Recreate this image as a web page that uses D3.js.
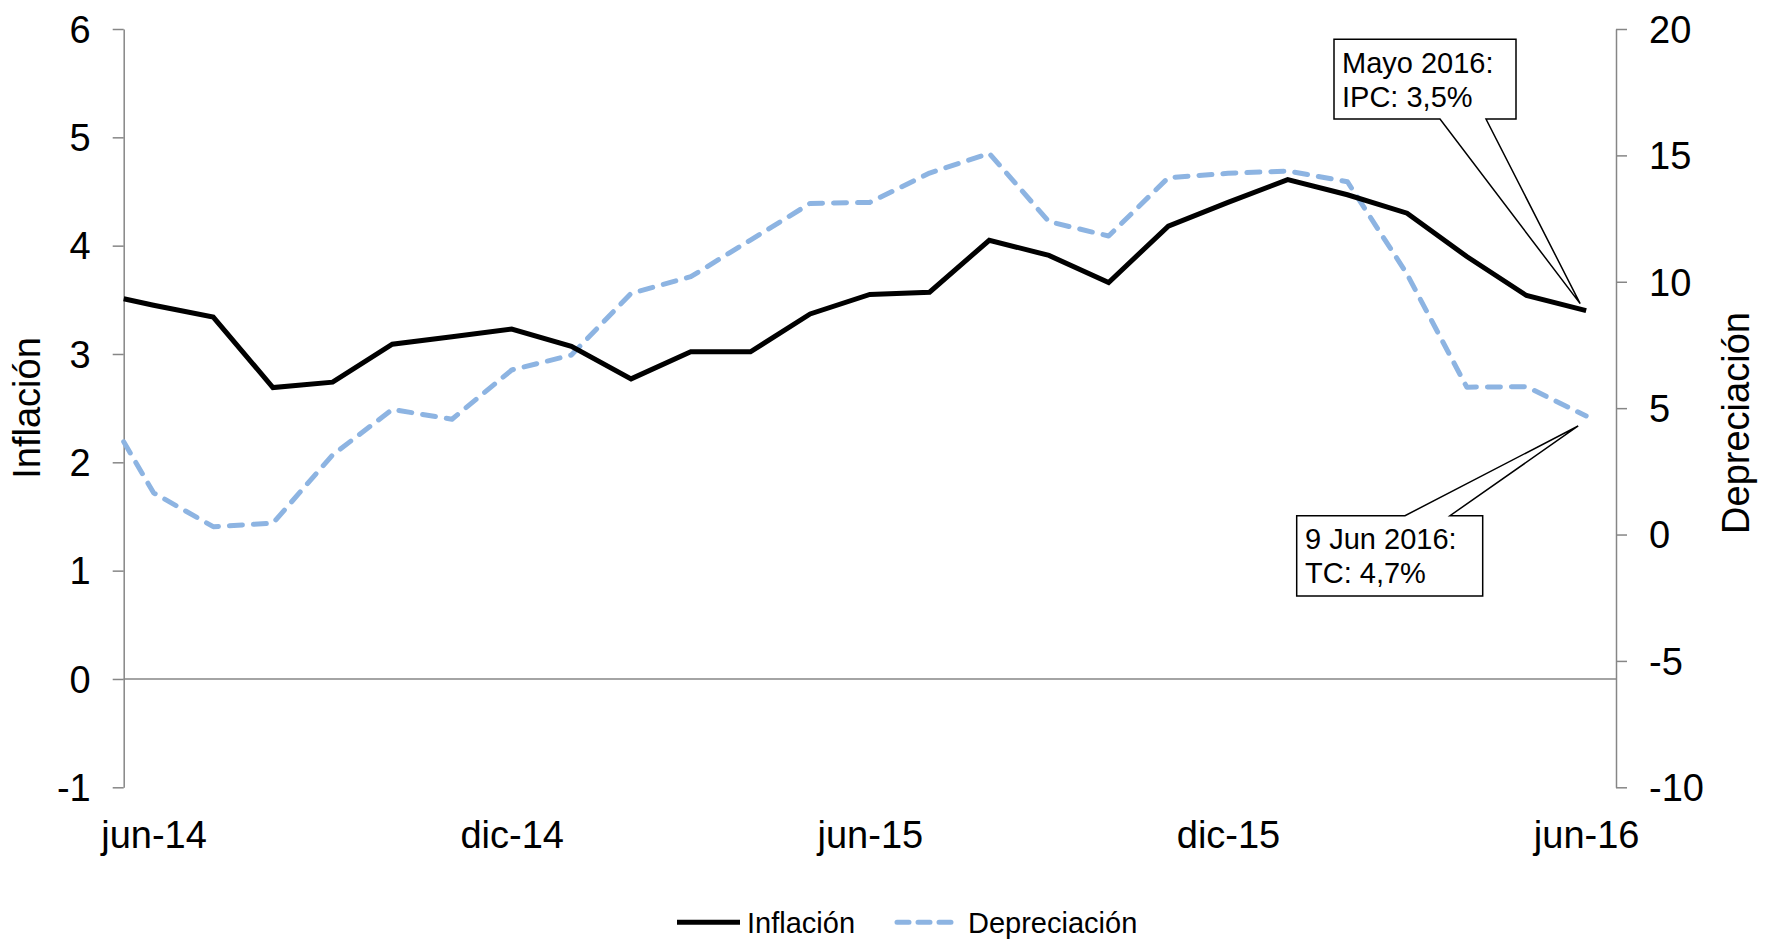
<!DOCTYPE html>
<html>
<head>
<meta charset="utf-8">
<script src="https://cdn.jsdelivr.net/npm/d3@7"></script>
<style>
  body { margin: 0; background: #fff; }
  text { font-family: "Liberation Sans", Arial, sans-serif; fill: #000; }
</style>
</head>
<body>
<script>
// month offset from jun-14 (axis starts half a month before jun-14)
var meses = [-0.5, 0, 1, 2, 3, 4, 5, 6, 7, 8, 9, 10, 11, 12, 13, 14, 15, 16, 17, 18, 19, 20, 21, 22, 23, 24];
var inflacion = [3.51, 3.45, 3.34, 2.69, 2.74, 3.09, 3.16, 3.23, 3.07, 2.77, 3.02, 3.02, 3.37, 3.55, 3.57,
                 4.05, 3.91, 3.66, 4.18, 4.40, 4.61, 4.47, 4.30, 3.90, 3.54, 3.40];
var depreciacion = [3.67, 1.65, 0.31, 0.45, 3.15, 4.95, 4.56, 6.51, 7.10, 9.54, 10.20, 11.65, 13.10, 13.14, 14.30,
                    15.08, 12.38, 11.81, 14.12, 14.29, 14.38, 13.96, 10.30, 5.83, 5.85, 4.69];
var tickMeses = [0, 6, 12, 18, 24];
var tickLabels = ["jun-14", "dic-14", "jun-15", "dic-15", "jun-16"];
var ticksIzq = [-1, 0, 1, 2, 3, 4, 5, 6];
var ticksDer = [-10, -5, 0, 5, 10, 15, 20];

var width = 1768, height = 945;
var plotLeft = 123.7, plotRight = 1616, plotTop = 29, plotBottom = 787.3;
var axisGray = "#868686";
var blue = "#8db4e2";

var svg = d3.select("body")
            .append("svg")
            .attr("width", width)
            .attr("height", height);

var x = d3.scaleLinear().domain([-0.5, 24.5]).range([plotLeft, plotRight]);
var yL = d3.scaleLinear().domain([-1, 6]).range([plotBottom, plotTop]);
var yR = d3.scaleLinear().domain([-10, 20]).range([plotBottom, plotTop]);

// plain hyphen for negatives, like the original
var fmt = function(d) { return String(d); };

// zero line
svg.append("line").attr("x1", plotLeft).attr("x2", plotRight)
   .attr("y1", yL(0)).attr("y2", yL(0))
   .attr("stroke", axisGray).attr("stroke-width", 1.5);

// left axis
var gL = svg.append("g").attr("transform", "translate(" + plotLeft + ",0)")
  .call(d3.axisLeft(yL).tickValues(ticksIzq).tickFormat(fmt).tickSize(11).tickPadding(22).tickSizeOuter(0));
// right axis
var gR = svg.append("g").attr("transform", "translate(" + plotRight + ",0)")
  .call(d3.axisRight(yR).tickValues(ticksDer).tickFormat(fmt).tickSize(11).tickPadding(22).tickSizeOuter(0));

[gL, gR].forEach(function(g) {
  g.select(".domain").attr("stroke", axisGray).attr("stroke-width", 1.5);
  g.selectAll(".tick line").attr("stroke", axisGray).attr("stroke-width", 1.5);
  g.selectAll(".tick text").attr("font-size", 38).attr("dy", "0.35em")
   .style("font-family", "'Liberation Sans', Arial, sans-serif");
});

// x labels
var gX = svg.append("g").attr("transform", "translate(0," + plotBottom + ")")
  .call(d3.axisBottom(x).tickValues(tickMeses).tickFormat(function(d, i) { return tickLabels[i]; })
        .tickSize(0).tickPadding(33.7));
gX.select(".domain").remove();
gX.selectAll(".tick text").attr("font-size", 38)
  .style("font-family", "'Liberation Sans', Arial, sans-serif");

// axis titles
svg.append("text").attr("transform", "translate(40,408) rotate(-90)")
   .attr("text-anchor", "middle").attr("font-size", 38).text("Inflación");
svg.append("text").attr("transform", "translate(1749,423) rotate(-90)")
   .attr("text-anchor", "middle").attr("font-size", 38).text("Depreciación");

// lines
var lineL = d3.line().x(function(d, i) { return x(meses[i]); }).y(function(d) { return yL(d); });
var lineR = d3.line().x(function(d, i) { return x(meses[i]); }).y(function(d) { return yR(d); });

svg.append("path").datum(depreciacion)
   .attr("d", lineR).attr("fill", "none")
   .attr("stroke", blue).attr("stroke-width", 5)
   .attr("stroke-dasharray", "13,11").attr("stroke-linecap", "round").attr("stroke-linejoin", "round");

svg.append("path").datum(inflacion)
   .attr("d", lineL).attr("fill", "none")
   .attr("stroke", "#000").attr("stroke-width", 5).attr("stroke-linejoin", "miter");

// annotations (callout boxes)
var last = meses.length - 1;
var tip1 = [x(meses[last]) - 6, yL(inflacion[last]) - 7];
var tip2 = [x(meses[last]) - 8, yR(depreciacion[last]) + 10];

svg.append("path")
   .attr("d", "M1334,39.3 H1516 V119 H1486 L" + tip1[0] + "," + tip1[1] + " L1440,119 H1334 Z")
   .attr("fill", "white").attr("stroke", "#000").attr("stroke-width", 1.5).attr("stroke-linejoin", "miter");
svg.append("text").attr("x", 1342).attr("y", 72.7).attr("font-size", 29).text("Mayo 2016:");
svg.append("text").attr("x", 1342).attr("y", 106.7).attr("font-size", 29).text("IPC: 3,5%");

svg.append("path")
   .attr("d", "M1296.7,515.7 H1405 L" + tip2[0] + "," + tip2[1] + " L1450,515.7 H1482.7 V596 H1296.7 Z")
   .attr("fill", "white").attr("stroke", "#000").attr("stroke-width", 1.5).attr("stroke-linejoin", "miter");
svg.append("text").attr("x", 1305).attr("y", 549.3).attr("font-size", 29).text("9 Jun 2016:");
svg.append("text").attr("x", 1305).attr("y", 583.3).attr("font-size", 29).text("TC: 4,7%");

// legend
var ly = 922.3;
svg.append("line").attr("x1", 677).attr("x2", 740).attr("y1", ly).attr("y2", ly)
   .attr("stroke", "#000").attr("stroke-width", 5);
svg.append("text").attr("x", 747).attr("y", ly).attr("dy", "0.36em").attr("font-size", 29).text("Inflación");
svg.append("line").attr("x1", 897).attr("x2", 953).attr("y1", ly).attr("y2", ly)
   .attr("stroke", blue).attr("stroke-width", 5)
   .attr("stroke-dasharray", "12,9").attr("stroke-linecap", "round");
svg.append("text").attr("x", 968).attr("y", ly).attr("dy", "0.36em").attr("font-size", 29).text("Depreciación");
</script>
</body>
</html>
